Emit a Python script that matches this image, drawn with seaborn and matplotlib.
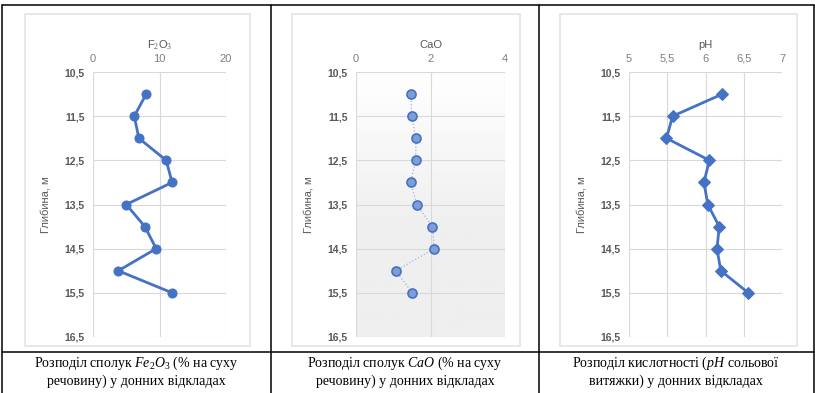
import matplotlib
matplotlib.use("Agg")
import matplotlib.pyplot as plt
import seaborn as sns
import numpy as np
import pandas as pd
from matplotlib.lines import Line2D
from matplotlib.patches import Rectangle

sns.set_theme(style="white")
plt.rcParams['font.family'] = ['Liberation Sans', 'DejaVu Sans']
plt.rcParams['mathtext.fontset'] = 'custom'
plt.rcParams['mathtext.rm'] = 'Liberation Serif'
plt.rcParams['mathtext.it'] = 'Liberation Serif:italic'

# ---- data ----
depth = [11.0, 11.5, 12.0, 12.5, 13.0, 13.5, 14.0, 14.5, 15.0, 15.5]
fe2o3 = [8.0, 6.2, 6.9, 11.0, 11.9, 5.0, 7.8, 9.5, 3.8, 11.9]
cao = [1.48, 1.49, 1.61, 1.60, 1.47, 1.63, 2.05, 2.10, 1.07, 1.51]
ph = [6.22, 5.57, 5.49, 6.05, 5.98, 6.03, 6.18, 6.15, 6.20, 6.56]

depth_ticks = [10.5, 11.5, 12.5, 13.5, 14.5, 15.5, 16.5]
depth_labels = ["10,5", "11,5", "12,5", "13,5", "14,5", "15,5", "16,5"]
fe_ticks = [0, 10, 20]
fe_labels = ["0", "10", "20"]
cao_ticks = [0, 2, 4]
cao_labels = ["0", "2", "4"]
ph_ticks = [5, 5.5, 6, 6.5, 7]
ph_labels = ["5", "5,5", "6", "6,5", "7"]

titles = [r"F$_2$O$_3$", "CaO", "pH"]
ylabel = "Глибина, м"
captions = [
    ["Розподіл сполук $Fe_2O_3$ (% на суху", "речовину) у донних відкладах"],
    ["Розподіл сполук $CaO$ (% на суху", "речовину) у донних відкладах"],
    ["Розподіл кислотності ($pH$ сольової", "витяжки) у донних відкладах"],
]

W, H = 815, 393
fig = plt.figure(figsize=(W / 100, H / 100), dpi=100)
fig.patch.set_facecolor("white")

def fx(px):
    return px / W

def fy(py):
    return 1 - py / H

blue = "#4472c4"
grid_c = "#d9d9d9"
txt_c = "#7f7f7f"
ytxt_c = "#595959"

# chart-image frames (light gray edges)
frames = [(25, 14, 250, 346), (292, 14, 520, 346), (560, 14, 797, 346)]
for (x0, y0, x1, y1) in frames:
    fig.add_artist(Rectangle((fx(x0), fy(y1)), fx(x1 - x0), (y1 - y0) / H,
                             transform=fig.transFigure, facecolor="white",
                             edgecolor="#e4e4e4", lw=1.2, zorder=0))

# plot areas (pixels): left, right
areas = [(93, 226), (356, 505), (629, 782)]
top_px, bot_px = 72, 337
xlims = [(0, 20), (0, 4), (5, 7)]
xticks = [(fe_ticks, fe_labels), (cao_ticks, cao_labels), (ph_ticks, ph_labels)]
vals = [fe2o3, cao, ph]

axes = []
for i, (l, r) in enumerate(areas):
    ax = fig.add_axes([fx(l), fy(bot_px), fx(r - l), (bot_px - top_px) / H])
    ax.set_facecolor("none")
    axes.append(ax)
    df = pd.DataFrame({"v": vals[i], "d": depth})
    if i == 0:
        sns.lineplot(data=df, x="v", y="d", sort=False, estimator=None, ax=ax,
                     color=blue, lw=2.0, marker="o", markersize=6.5,
                     markeredgecolor=blue, markerfacecolor=blue, zorder=3)
    elif i == 1:
        grad = np.linspace(0, 1, 256).reshape(-1, 1)
        grad = np.clip((grad - 0.4) / 0.6, 0, 1)
        ax.imshow(grad, extent=[0, 1, 0, 1], transform=ax.transAxes,
                  aspect="auto", cmap=matplotlib.colors.LinearSegmentedColormap.from_list(
                      "g", ["#efefef", "#ffffff"]), origin="lower", zorder=0)
        sns.lineplot(data=df, x="v", y="d", sort=False, estimator=None, ax=ax,
                     color="#9db4e0", lw=0.9, linestyle=":", marker="o",
                     markersize=6.5, markeredgecolor=blue,
                     markerfacecolor="#7f9ed6", markeredgewidth=1.2, zorder=3)
    else:
        sns.lineplot(data=df, x="v", y="d", sort=False, estimator=None, ax=ax,
                     color=blue, lw=2.0, marker="D", markersize=6.0,
                     markeredgecolor=blue, markerfacecolor=blue, zorder=3)
    ax.set_xlim(*xlims[i])
    ax.set_ylim(16.5, 10.5)
    ax.set_yticks(depth_ticks)
    ax.set_yticklabels(depth_labels, fontsize=7.5, color=ytxt_c, fontweight="bold")
    ax.set_xticks(xticks[i][0])
    ax.set_xticklabels(xticks[i][1], fontsize=8, color=txt_c)
    ax.xaxis.tick_top()
    ax.xaxis.set_label_position("top")
    ax.set_xlabel(titles[i], fontsize=8, color=ytxt_c, labelpad=4)
    ax.set_ylabel(ylabel, fontsize=8, color=ytxt_c, labelpad=10)
    ax.tick_params(axis="both", length=0, pad=6)
    ax.grid(True, color=grid_c, lw=0.8)
    ax.set_axisbelow(True)
    for s in ax.spines.values():
        s.set_visible(False)

# captions
centers = [136, 405, 676]
for c, lines in zip(centers, captions):
    fig.text(fx(c), fy(363), lines[0], ha="center", va="center",
             fontsize=10, family="Liberation Serif", color="black")
    fig.text(fx(c), fy(381), lines[1], ha="center", va="center",
             fontsize=10, family="Liberation Serif", color="black")

# table lines
def hline(y, x0=1.5, x1=813.5):
    fig.add_artist(Line2D([fx(x0), fx(x1)], [fy(y), fy(y)], transform=fig.transFigure,
                          color="black", lw=1.1))

def vline(x, y0=4.5, y1=393):
    fig.add_artist(Line2D([fx(x), fx(x)], [fy(y0), fy(y1)], transform=fig.transFigure,
                          color="black", lw=1.1))

hline(4.5)
hline(351.5)
for x in [1.5, 271, 538.5, 813.5]:
    vline(x)

fig.savefig("out.png", dpi=100, facecolor="white")
